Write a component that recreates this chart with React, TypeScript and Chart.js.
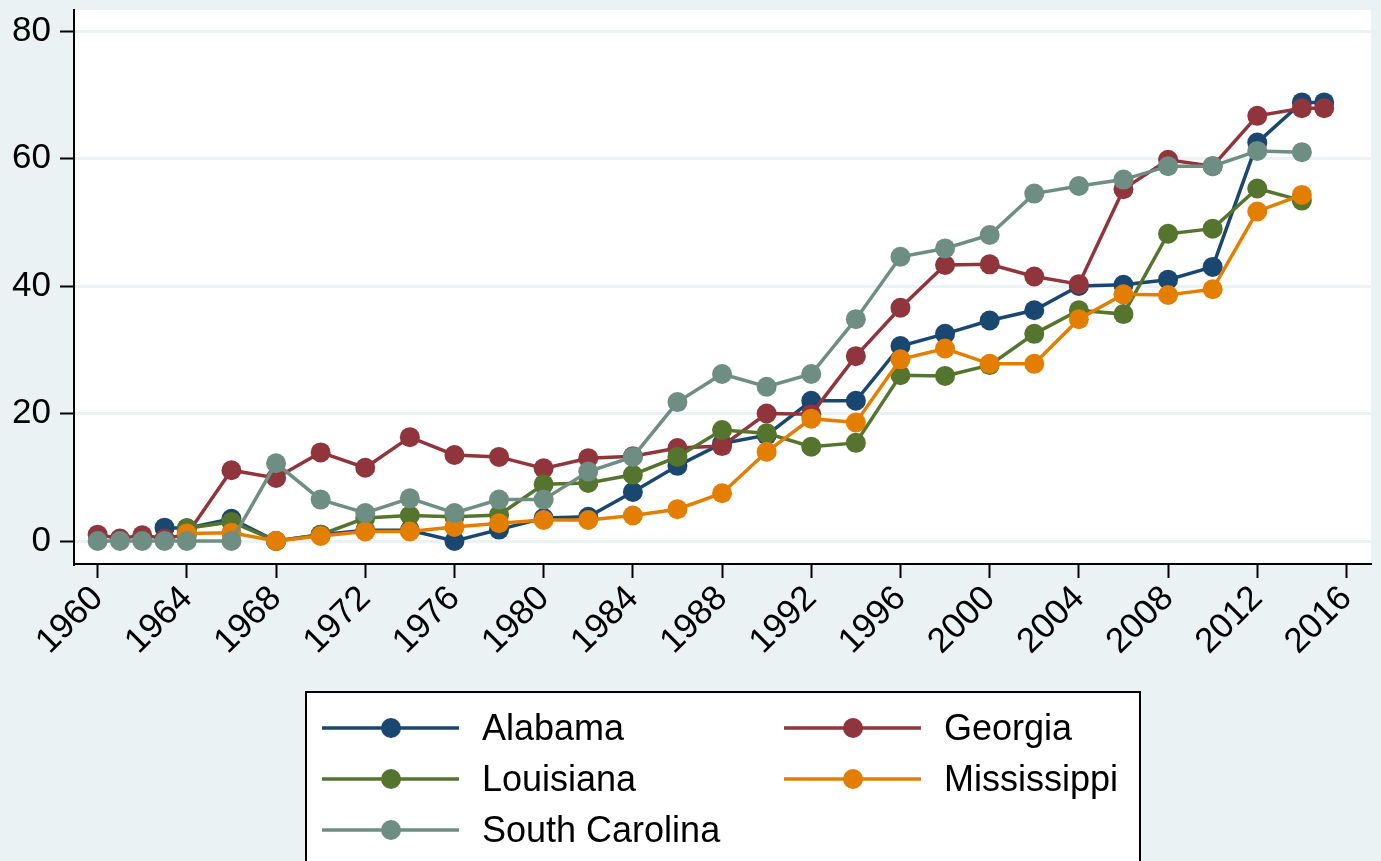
import React, { useEffect, useRef } from "react";
import { Chart, registerables } from "chart.js";

Chart.register(...registerables);

const years = [1960, 1961, 1962, 1963, 1964, 1966, 1968, 1970, 1972, 1974, 1976, 1978, 1980, 1982, 1984, 1986, 1988, 1990, 1992, 1994, 1996, 1998, 2000, 2002, 2004, 2006, 2008, 2010, 2012, 2014, 2015];

const alabama = [null, null, null, 2.1, 2.0, 3.5, 0, 1.0, 1.7, 1.7, 0, 1.8, 3.6, 3.8, 7.7, 11.8, 15.3, 16.6, 22.0, 22.0, 30.6, 32.5, 34.6, 36.2, 40.0, 40.2, 41.0, 43.0, 62.5, 68.8, 68.8];
const georgia = [1.0, 0.4, 0.9, 0.4, 1.0, 11.1, 9.9, 13.9, 11.5, 16.3, 13.5, 13.2, 11.4, 13.0, 13.3, 14.6, 14.9, 20.0, 19.9, 29.0, 36.6, 43.3, 43.4, 41.5, 40.3, 55.2, 59.8, 58.8, 66.7, 67.9, 67.9];
const louisiana = [null, null, null, null, 2.0, 3.0, 0, 1.0, 3.6, 4.0, 3.8, 4.1, 8.9, 9.1, 10.4, 13.2, 17.4, 16.9, 14.8, 15.4, 26.0, 25.9, 27.6, 32.5, 36.2, 35.6, 48.2, 49.0, 55.3, 53.4, null];
const mississippi = [null, null, null, null, 1.2, 1.3, 0, 0.8, 1.5, 1.5, 2.2, 2.8, 3.3, 3.3, 4.0, 5.0, 7.5, 14.0, 19.2, 18.6, 28.5, 30.2, 27.8, 27.8, 34.8, 38.7, 38.6, 39.5, 51.7, 54.3, null];
const southCarolina = [0, 0, 0, 0, 0, 0, 12.2, 6.5, 4.4, 6.7, 4.4, 6.5, 6.5, 10.9, 13.2, 21.8, 26.2, 24.2, 26.2, 34.8, 44.6, 45.9, 48.0, 54.5, 55.7, 56.7, 58.8, 58.8, 61.2, 61.0, null];

const seriesNames = ["Alabama", "Georgia", "Louisiana", "Mississippi", "South Carolina"];
const seriesValues = [alabama, georgia, louisiana, mississippi, southCarolina];
const seriesColors = ["#1A476F", "#90353B", "#55752F", "#E37E00", "#6E8E84"];

const xTicks = [1960, 1964, 1968, 1972, 1976, 1980, 1984, 1988, 1992, 1996, 2000, 2004, 2008, 2012, 2016];
const yTicks = [0, 20, 40, 60, 80];

const BG = "#EAF2F3";
const FONT = '"Liberation Sans", Arial, sans-serif';

const bgPlugin = {
  id: "bgPlugin",
  beforeDraw(chart: any) {
    const { ctx, chartArea } = chart;
    ctx.save();
    ctx.fillStyle = BG;
    ctx.fillRect(0, 0, chart.width, chart.height);
    ctx.fillStyle = "#FFFFFF";
    ctx.fillRect(chartArea.left, chartArea.top, chartArea.right - chartArea.left, chartArea.bottom - chartArea.top);
    ctx.restore();
  },
};

const legendPlugin = {
  id: "stataLegend",
  afterDraw(chart: any) {
    const { ctx } = chart;
    ctx.save();
    ctx.fillStyle = "#FFFFFF";
    ctx.fillRect(306, 692, 834, 200);
    ctx.strokeStyle = "#000000";
    ctx.lineWidth = 2;
    ctx.strokeRect(306, 692, 834, 200);
    const colX = [322, 784];
    const rowY = [728, 779, 830];
    chart.data.datasets.forEach((ds: any, i: number) => {
      const x = colX[i % 2];
      const y = rowY[Math.floor(i / 2)];
      ctx.strokeStyle = ds.borderColor;
      ctx.lineWidth = 3.5;
      ctx.beginPath();
      ctx.moveTo(x, y);
      ctx.lineTo(x + 137, y);
      ctx.stroke();
      ctx.fillStyle = ds.borderColor;
      ctx.beginPath();
      ctx.arc(x + 69, y, 10, 0, Math.PI * 2);
      ctx.fill();
      ctx.fillStyle = "#000000";
      ctx.font = "36px " + FONT;
      ctx.textBaseline = "alphabetic";
      ctx.textAlign = "left";
      ctx.fillText(ds.label, x + 160, y + 12);
    });
    ctx.restore();
  },
};

export default function App() {
  const ref = useRef<HTMLCanvasElement | null>(null);

  useEffect(() => {
    if (!ref.current) return;
    const datasets = seriesNames.map((name, i) => ({
      label: name,
      data: years
        .map((yr, j) => ({ x: yr, y: seriesValues[i][j] }))
        .filter((p) => p.y !== null),
      borderColor: seriesColors[i],
      backgroundColor: seriesColors[i],
      pointBackgroundColor: seriesColors[i],
      pointBorderWidth: 0,
      pointRadius: 10,
      borderWidth: 3.5,
      tension: 0,
      order: seriesNames.length - i,
    }));

    const chart = new Chart(ref.current, {
      type: "line",
      data: { datasets },
      options: {
        responsive: false,
        animation: false,
        layout: { padding: { top: 2, right: 8, left: 0, bottom: 0 } },
        plugins: { legend: { display: false }, tooltip: { enabled: false } },
        scales: {
          x: {
            type: "linear",
            min: 1958.94,
            max: 2017.1,
            afterFit(scale: any) {
              scale.height = 297;
              scale.paddingLeft = 0;
              scale.paddingRight = 0;
            },
            afterBuildTicks(scale: any) {
              scale.ticks = xTicks.map((v) => ({ value: v }));
            },
            ticks: {
              autoSkip: false,
              minRotation: 45,
              maxRotation: 45,
              padding: 0,
              color: "#000000",
              font: { family: FONT, size: 35 },
              callback: (v: any) => String(v),
            },
            grid: {
              drawOnChartArea: false,
              drawTicks: true,
              tickLength: 14,
              tickWidth: 2,
              tickColor: "#000000",
            },
            border: { display: true, color: "#000000", width: 2 },
          },
          y: {
            type: "linear",
            min: -3.6,
            max: 83.3,
            afterFit(scale: any) {
              scale.width = 74;
              scale.paddingTop = 0;
              scale.paddingBottom = 0;
            },
            afterBuildTicks(scale: any) {
              scale.ticks = yTicks.map((v) => ({ value: v }));
            },
            ticks: {
              padding: 9,
              color: "#000000",
              font: { family: FONT, size: 35 },
              callback: (v: any) => String(v),
            },
            grid: {
              color: BG,
              lineWidth: 3,
              drawTicks: true,
              tickLength: 14,
              tickWidth: 2,
              tickColor: "#000000",
            },
            border: { display: true, color: "#000000", width: 2 },
          },
        },
      },
      plugins: [bgPlugin, legendPlugin],
    });
    return () => chart.destroy();
  }, []);

  return (
    <canvas
      ref={ref}
      width={1381}
      height={861}
      style={{ position: "fixed", left: 0, top: 0, display: "block", width: 1381, height: 861 }}
    />
  );
}
